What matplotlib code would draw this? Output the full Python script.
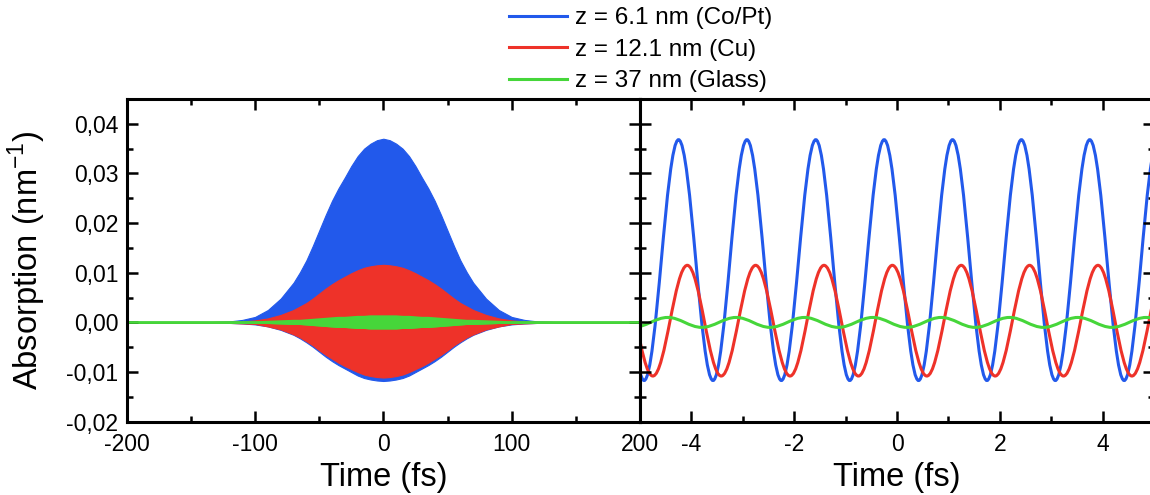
import matplotlib
matplotlib.use("Agg")
import matplotlib.pyplot as plt
from matplotlib.path import Path
from matplotlib.patches import PathPatch
from matplotlib.lines import Line2D
from matplotlib.ticker import MultipleLocator, FuncFormatter

plt.rcParams["font.family"] = ["Liberation Sans", "DejaVu Sans"]
plt.rcParams["axes.unicode_minus"] = False

# left panel: envelopes of the fast oscillation (fs, nm^-1)
time_fs = [-200, -150, -140, -130, -120, -110, -100, -90, -80,
           -70, -65, -60, -55, -50, -45, -40, -35, -30, -25, -20, -15, -10, -5, 0,
           5, 10, 15, 20, 25, 30, 35, 40, 45, 50, 55, 60, 65, 70,
           80, 90, 100, 110, 120, 130, 140, 150, 200]
blue_upper = [0, 0, 0, 0.0001, 0.0002, 0.0005, 0.0011, 0.0025, 0.0048,
              0.0080, 0.0101, 0.0125, 0.0154, 0.0185, 0.0216, 0.0245, 0.0270, 0.0292, 0.0315,
              0.0335, 0.0350, 0.0360, 0.0367, 0.0370,
              0.0367, 0.0360, 0.0350, 0.0335, 0.0315, 0.0292, 0.0270, 0.0245, 0.0216, 0.0185,
              0.0154, 0.0125, 0.0101, 0.0080,
              0.0048, 0.0025, 0.0011, 0.0005, 0.0002, 0.0001, 0, 0, 0]
blue_lower = [0, 0, 0, 0, -0.0001, -0.0002, -0.0004, -0.0008, -0.0015,
              -0.0025, -0.0032, -0.0040, -0.0049, -0.0059, -0.0069, -0.0078, -0.0086, -0.0093, -0.0100,
              -0.0107, -0.0112, -0.0115, -0.0117, -0.0118,
              -0.0117, -0.0115, -0.0112, -0.0107, -0.0100, -0.0093, -0.0086, -0.0078, -0.0069, -0.0059,
              -0.0049, -0.0040, -0.0032, -0.0025,
              -0.0015, -0.0008, -0.0004, -0.0002, -0.0001, 0, 0, 0, 0]
red_upper = [0, 0, 0, 0.0001, 0.0001, 0.0002, 0.0004, 0.0008, 0.0015,
             0.0025, 0.0032, 0.0039, 0.0048, 0.0058, 0.0068, 0.0077, 0.0085, 0.0092, 0.0099,
             0.0105, 0.0110, 0.0113, 0.0115, 0.0116,
             0.0115, 0.0113, 0.0110, 0.0105, 0.0099, 0.0092, 0.0085, 0.0077, 0.0068, 0.0058,
             0.0048, 0.0039, 0.0032, 0.0025,
             0.0015, 0.0008, 0.0004, 0.0002, 0.0001, 0.0001, 0, 0, 0]
red_lower = [0, 0, 0, 0, -0.0001, -0.0002, -0.0003, -0.0008, -0.0014,
             -0.0024, -0.0030, -0.0038, -0.0046, -0.0056, -0.0065, -0.0073, -0.0081, -0.0088, -0.0094,
             -0.0100, -0.0105, -0.0108, -0.0110, -0.0111,
             -0.0110, -0.0108, -0.0105, -0.0100, -0.0094, -0.0088, -0.0081, -0.0073, -0.0065, -0.0056,
             -0.0046, -0.0038, -0.0030, -0.0024,
             -0.0014, -0.0008, -0.0003, -0.0002, -0.0001, 0, 0, 0, 0]
green_upper = [0, 0, 0, 0, 0, 0, 0, 0.0001, 0.0002,
               0.0003, 0.0003, 0.0004, 0.0005, 0.0006, 0.0007, 0.0008, 0.0009, 0.0009, 0.0010,
               0.0011, 0.0011, 0.0012, 0.0012, 0.0012,
               0.0012, 0.0012, 0.0011, 0.0011, 0.0010, 0.0009, 0.0009, 0.0008, 0.0007, 0.0006,
               0.0005, 0.0004, 0.0003, 0.0003,
               0.0002, 0.0001, 0, 0, 0, 0, 0, 0, 0]
green_lower = [-v for v in green_upper]

# right panel: extrema of each trace (fs, nm^-1)
blue_ext_t = [-5.58, -4.92, -4.25, -3.58, -2.92, -2.25, -1.58, -0.92, -0.25, 0.42, 1.08, 1.75,
              2.42, 3.08, 3.75, 4.42, 5.08]
blue_ext_v = [0.0368, -0.0117, 0.0368, -0.0117, 0.0368, -0.0117, 0.0368, -0.0117, 0.0368, -0.0117,
              0.0368, -0.0117, 0.0368, -0.0117, 0.0368, -0.0117, 0.0368]
red_ext_t = [-5.41, -4.75, -4.08, -3.42, -2.75, -2.08, -1.42, -0.75, -0.09, 0.58, 1.25, 1.91,
             2.58, 3.24, 3.91, 4.57, 5.24]
red_ext_v = [0.0115, -0.0108, 0.0115, -0.0108, 0.0115, -0.0108, 0.0115, -0.0108, 0.0115, -0.0108,
             0.0115, -0.0108, 0.0115, -0.0108, 0.0115, -0.0108, 0.0115]
green_ext_t = [-5.13, -4.46, -3.80, -3.13, -2.47, -1.80, -1.14, -0.47, 0.19, 0.86, 1.52, 2.19,
               2.85, 3.52, 4.18, 4.85, 5.51]
green_ext_v = [-0.0010, 0.0010, -0.0010, 0.0010, -0.0010, 0.0010, -0.0010, 0.0010, -0.0010, 0.0010,
               -0.0010, 0.0010, -0.0010, 0.0010, -0.0010, 0.0010, -0.0010]

labels = ["z = 6.1 nm (Co/Pt)", "z = 12.1 nm (Cu)", "z = 37 nm (Glass)"]
colors = ["#2259EB", "#EE3229", "#46D63A"]


def wave_path(ts, vs, k=0.364):
    # smooth half-cycles between extrema with flat tangents at each extremum
    verts = [(ts[0], vs[0])]
    codes = [Path.MOVETO]
    for i in range(1, len(ts)):
        dt = ts[i] - ts[i - 1]
        verts += [(ts[i - 1] + k * dt, vs[i - 1]), (ts[i] - k * dt, vs[i]), (ts[i], vs[i])]
        codes += [Path.CURVE4] * 3
    return Path(verts, codes)


def comma_fmt(v, pos):
    if abs(v) < 1e-9:
        v = 0.0
    return f"{v:.2f}".replace(".", ",")


W, H = 1150, 495
fig = plt.figure(figsize=(W / 100, H / 100), dpi=100)
ax1 = fig.add_axes([126.7 / W, 1 - 421.7 / H, 513.3 / W, 322.7 / H])
ax2 = fig.add_axes([640 / W, 1 - 421.7 / H, 514 / W, 322.7 / H])

ax1.fill_between(time_fs, blue_lower, blue_upper, color=colors[0], lw=0.8)
ax1.fill_between(time_fs, red_lower, red_upper, color=colors[1], lw=0.8)
ax1.fill_between(time_fs, green_lower, green_upper, color=colors[2], lw=0.8)
ax1.plot(time_fs, green_upper, color=colors[2], lw=1.6)
ax1.plot(time_fs, green_lower, color=colors[2], lw=1.6)

for ts, vs, c in [(blue_ext_t, blue_ext_v, colors[0]),
                  (red_ext_t, red_ext_v, colors[1]),
                  (green_ext_t, green_ext_v, colors[2])]:
    ax2.add_patch(PathPatch(wave_path(ts, vs), facecolor="none", edgecolor=c, lw=2.2))

ax1.set_xlim(-200, 200)
ax2.set_xlim(-5, 5)
for ax in (ax1, ax2):
    ax.set_ylim(-0.02, 0.045)
    ax.yaxis.set_major_locator(MultipleLocator(0.01))
    ax.yaxis.set_minor_locator(MultipleLocator(0.005))
    ax.tick_params(which="both", direction="in", top=True, right=True, width=1.8, labelsize=16.5)
    ax.tick_params(which="major", length=8)
    ax.tick_params(which="minor", length=4.5)
    ax.tick_params(axis="x", pad=8)
    ax.tick_params(axis="y", pad=6)
    for s in ax.spines.values():
        s.set_linewidth(2.2)
    ax.set_xlabel("Time (fs)", fontsize=23.5, va="top")
    ax.xaxis.set_label_coords(0.5, -0.125)

ax1.xaxis.set_major_locator(MultipleLocator(100))
ax1.xaxis.set_minor_locator(MultipleLocator(50))
ax1.yaxis.set_major_formatter(FuncFormatter(comma_fmt))
ax1.set_ylabel("Absorption (nm$^{\\mathregular{-1}}$)", fontsize=23.5)
ax1.yaxis.set_label_coords(-0.153, 0.5)

ax2.xaxis.set_major_locator(MultipleLocator(2))
ax2.xaxis.set_minor_locator(MultipleLocator(1))
ax2.tick_params(labelleft=False)

handles = [Line2D([], [], color=c, lw=2.2) for c in colors]
fig.legend(handles, labels, loc="upper left", bbox_to_anchor=(509 / W, 1 - 7 / H),
           frameon=False, fontsize=17.5, handlelength=2.4, handletextpad=0.3,
           labelspacing=0.4, borderpad=0, borderaxespad=0)

fig.savefig("out.png", dpi=100)
